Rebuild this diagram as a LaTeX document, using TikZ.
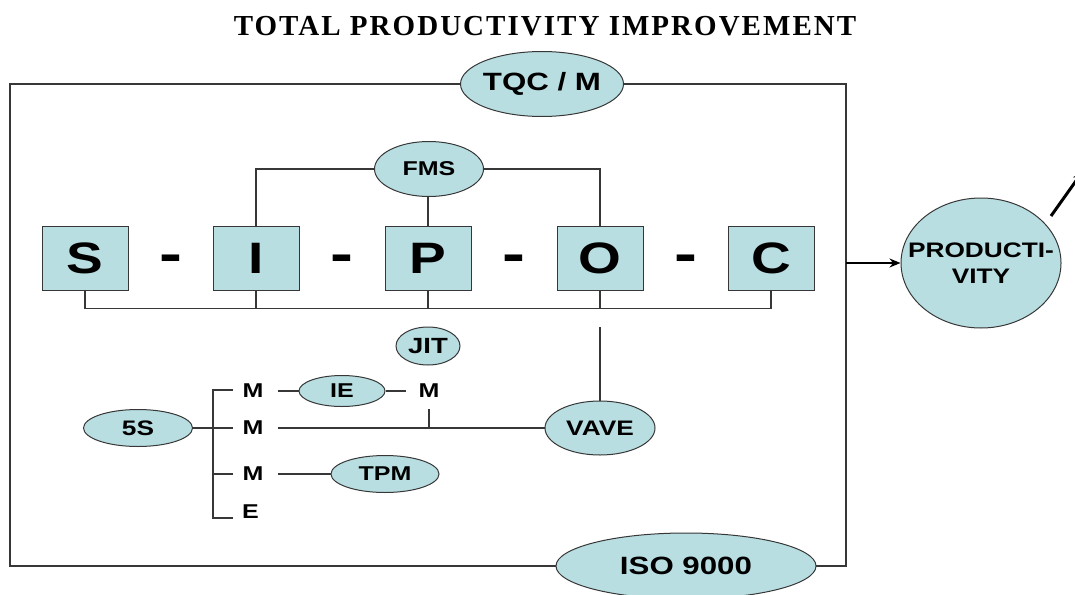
\documentclass[tikz,border=0pt]{standalone}
\usepackage{fontspec}
\setmainfont{Liberation Sans}
\newfontfamily\labfont{Liberation Sans}[FakeStretch=1.25]
\newfontfamily\titlefont{Liberation Serif}[LetterSpace=7]
\usetikzlibrary{shapes.geometric,arrows.meta}
\definecolor{fillc}{RGB}{184,222,226}
\definecolor{linec}{RGB}{55,55,55}
\begin{document}
\begin{tikzpicture}[x=1pt,y=-1pt,
  ell/.style={ellipse,draw=linec,line width=1pt,fill=fillc,inner sep=0pt},
  box/.style={rectangle,draw=linec,line width=1pt,fill=fillc,minimum width=86pt,minimum height=64pt,inner sep=0pt,font=\labfont\bfseries\fontsize{44}{46}\selectfont},
  dashtxt/.style={inner sep=0pt,anchor=base,font=\labfont\bfseries\fontsize{55}{57}\selectfont},
  conn/.style={draw=linec,line width=1.1pt},
  lab/.style={inner sep=0pt,font=\labfont\bfseries\fontsize{20}{22}\selectfont},
  arr/.style={draw=black,line width=2.6pt,-{Stealth[length=11pt,width=9pt]}}
]
\useasboundingbox (0,0) rectangle (1075,594);
% title
\node[font=\titlefont\bfseries\fontsize{29}{31}\selectfont] (title) at (545,26.5) {TOTAL PRODUCTIVITY IMPROVEMENT};
% frame
\draw[conn,line width=1.3pt] (10,84) rectangle (846,566);
% S-I-P-O-C boxes
\node[box] (S) at (85,258) {S};
\node[box] (I) at (256,258) {I};
\node[box] (P) at (428,258) {P};
\node[box] (O) at (600,258) {O};
\node[box] (C) at (771,258) {C};
\node[dashtxt] (d1) at (171,272) {-};
\node[dashtxt] (d2) at (342,272) {-};
\node[dashtxt] (d3) at (514,272) {-};
\node[dashtxt] (d4) at (686,272) {-};
% FMS
\node[ell,minimum width=109pt,minimum height=55pt,font=\labfont\bfseries\fontsize{20}{22}\selectfont] (fms) at (429,169) {FMS};
\draw[conn] (fms.west) -| (I.north);
\draw[conn] (fms.east) -| (O.north);
\draw[conn] (fms.south) -- (P.south |- fms.south) -- (P.north);
% bus
\draw[conn] (S.south) -- ++(0,18) -| (C.south);
\draw[conn] (I.south) -- ++(0,18);
\draw[conn] (P.south) -- ++(0,18);
\draw[conn] (O.south) -- ++(0,18);
% top / bottom frame labels
\node[ell,minimum width=163pt,minimum height=65pt,label={[lab,font=\labfont\bfseries\fontsize{25}{27}\selectfont]center:TQC / M}] (tqc) at (542,84) {};
\node[ell,minimum width=260pt,minimum height=66pt,font=\labfont\bfseries\fontsize{25}{27}\selectfont] (iso) at (686,566) {ISO 9000};
% JIT, VAVE
\node[ell,minimum width=64pt,minimum height=38pt,font=\labfont\bfseries\fontsize{22}{24}\selectfont] (jit) at (428,346) {JIT};
\node[ell,minimum width=110pt,minimum height=54pt,font=\labfont\bfseries\fontsize{21}{23}\selectfont] (vave) at (600,428) {VAVE};
\coordinate (vtop) at (600,327);
\draw[conn] (vtop) -- (vave.north);
% 5S and M-M-M-E
\node[ell,minimum width=109pt,minimum height=37pt,font=\labfont\bfseries\fontsize{21}{23}\selectfont] (s5) at (138,428) {5S};
\node[lab] (m1) at (253,391) {M};
\node[lab] (m2) at (253,428) {M};
\node[lab] (m3) at (253,474) {M};
\node[lab,anchor=west] (e) at (242,512) {E};
\node[lab] (m4) at (429,391) {M};
\node[ell,minimum width=86pt,minimum height=31pt,font=\labfont\bfseries\fontsize{20}{22}\selectfont] (ie) at (342,391) {IE};
\node[ell,minimum width=108pt,minimum height=37pt,font=\labfont\bfseries\fontsize{20}{22}\selectfont] (tpm) at (385,474) {TPM};
\coordinate (bt) at (213,390);
\coordinate (bb) at (213,518);
\draw[conn] ([xshift=-9pt]m1.west |- bt) -- (bt) -- (bb) -- ([xshift=-9pt]m1.west |- bb);
\draw[conn] (s5.east) -- ([xshift=-9pt]m2.west);
\draw[conn] (bt |- m3) -- ([xshift=-9pt]m3.west);
\draw[conn] ([xshift=14pt]m1.east) -- (ie.west);
\draw[conn] (ie.east) -- ([xshift=-12pt]m4.west);
\draw[conn] ([xshift=14pt]m2.east) -- (vave.west);
\draw[conn] ([yshift=-11pt]m4.south) -- (m4.south |- m2);
\draw[conn] ([xshift=14pt]m3.east) -- (tpm.west);
% productivity
\node[ell,minimum width=160pt,minimum height=130pt,label={[lab,align=center,font=\labfont\bfseries\fontsize{21}{26}\selectfont]center:PRODUCTI-\\VITY}] (prod) at (981,263) {};
\coordinate (frameR) at (846,263);
\draw[arr] (frameR) -- (prod.west);
\coordinate (o1) at (1051,216);
\coordinate (o2) at (1083,171);
\draw[arr,line width=3pt] (o1) -- (o2);
\end{tikzpicture}
\end{document}
